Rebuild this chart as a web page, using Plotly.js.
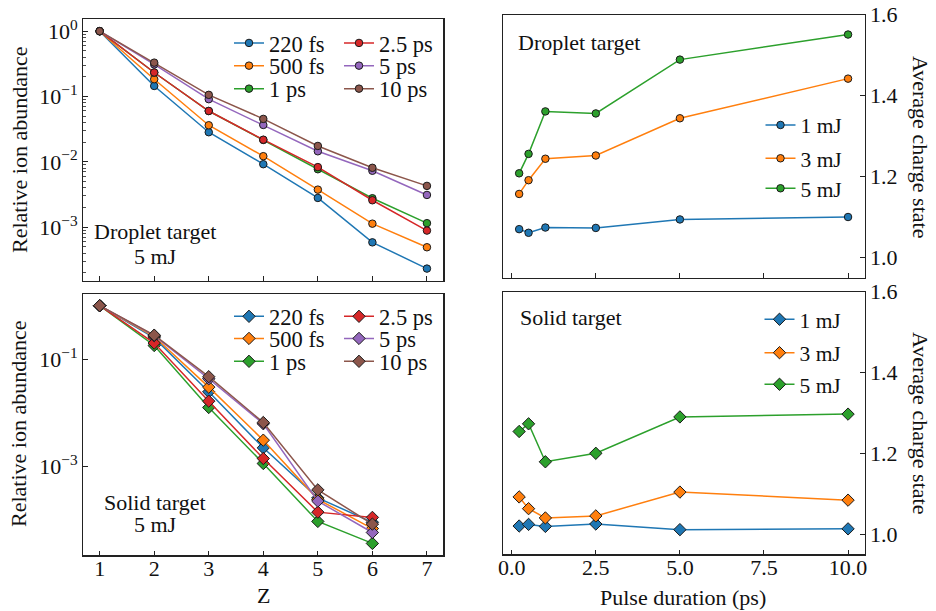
<!DOCTYPE html>
<html><head><meta charset="utf-8">
<script src="https://cdn.plot.ly/plotly-3.0.1.min.js"></script>
<style>html,body{margin:0;padding:0;background:#fff}</style>
</head><body><div id="chart" style="width:936px;height:611px"></div>
<script>
// ---------- data ----------
const Z_droplet = [1, 2, 3, 4, 5, 6, 7];
const Z_solid = [1, 2, 3, 4, 5, 6];
const durationLabels = ['220 fs', '500 fs', '1 ps', '2.5 ps', '5 ps', '10 ps'];

const droplet_220fs = [1, 0.145, 0.0284, 0.0092, 0.0028, 0.000585, 0.000232];
const droplet_500fs = [1, 0.184, 0.0363, 0.0122, 0.00375, 0.00113, 0.000492];
const droplet_1ps   = [1, 0.233, 0.060, 0.0216, 0.0077, 0.00277, 0.00115];
const droplet_2p5ps = [1, 0.233, 0.060, 0.0218, 0.0083, 0.00258, 0.000885];
const droplet_5ps   = [1, 0.31, 0.091, 0.0367, 0.0145, 0.0073, 0.00311];
const droplet_10ps  = [1, 0.33, 0.106, 0.0454, 0.0175, 0.0081, 0.00428];

const solid_220fs = [1, 0.25, 0.0245, 0.0022, 0.000255, 0.000089];
const solid_500fs = [1, 0.265, 0.030, 0.00306, 0.00024, 0.000068];
const solid_1ps   = [1, 0.18, 0.0125, 0.00112, 0.0000925, 0.0000359];
const solid_2p5ps = [1, 0.20, 0.0164, 0.00139, 0.000138, 0.00011];
const solid_5ps   = [1, 0.275, 0.043, 0.0062, 0.000222, 0.0000575];
const solid_10ps  = [1, 0.281, 0.047, 0.00654, 0.00036, 0.0000824];

const pulseDuration = [0.22, 0.5, 1, 2.5, 5, 10];
const energyLabels = ['1 mJ', '3 mJ', '5 mJ'];
const dropletCharge_1mJ = [1.070, 1.061, 1.074, 1.073, 1.094, 1.100];
const dropletCharge_3mJ = [1.157, 1.191, 1.244, 1.252, 1.344, 1.442];
const dropletCharge_5mJ = [1.208, 1.256, 1.361, 1.356, 1.489, 1.551];
const solidCharge_1mJ = [1.020, 1.024, 1.019, 1.025, 1.011, 1.013];
const solidCharge_3mJ = [1.092, 1.063, 1.040, 1.045, 1.104, 1.084];
const solidCharge_5mJ = [1.254, 1.273, 1.179, 1.200, 1.290, 1.297];

const logTickVals = [1, 0.1, 0.01, 0.001, 0.0001];
const logTickText = ['10<sup>0</sup>', '10<sup>\u22121</sup>', '10<sup>\u22122</sup>', '10<sup>\u22123</sup>', '10<sup>\u22124</sup>'];
const solidTickVals = [0.1, 0.001];
const solidTickText = ['10<sup>\u22121</sup>', '10<sup>\u22123</sup>'];
const chargeTicks = [1.0, 1.2, 1.4, 1.6];
const pulseTicks = [0, 2.5, 5, 7.5, 10];

// ---------- styling ----------
const colors = ['#1f77b4', '#ff7f0e', '#2ca02c', '#d62728', '#9467bd', '#8c564b'];
const W = 936, H = 611;
const fx = p => p / W, fy = p => 1 - p / H;
const FONT = "'Liberation Serif', 'Times New Roman', serif";
const FS = 22;

// legend entry positions (marker centre, px)
const leftLegendX = [248, 358];
const dropletLegendY = [43.3, 66, 89];
const solidLegendY = [316.7, 338.8, 361.7];
const dropletChargeLegend = {x: 779.5, y: [125, 158.3, 188.3]};
const solidChargeLegend = {x: 778.5, y: [319.3, 352.7, 384.3]};

const traces = [];
const layout = {
  width: W, height: H, margin: {l: 0, r: 0, t: 0, b: 0},
  paper_bgcolor: '#fff', plot_bgcolor: '#fff', showlegend: true,
  font: {family: FONT, color: '#111', size: FS}
};
let legendCount = 0;
function newLegend(mx, my, size) {
  legendCount += 1;
  const key = legendCount === 1 ? 'legend' : 'legend' + legendCount;
  layout[key] = {x: fx(mx - 19), y: fy(my), xanchor: 'left', yanchor: 'middle', bgcolor: 'rgba(0,0,0,0)',
    borderwidth: 0, font: {family: FONT, size: size, color: '#111'}, itemwidth: 30};
  return key;
}

const dropletSets = [droplet_220fs, droplet_500fs, droplet_1ps, droplet_2p5ps, droplet_5ps, droplet_10ps];
const solidSets = [solid_220fs, solid_500fs, solid_1ps, solid_2p5ps, solid_5ps, solid_10ps];

dropletSets.forEach((ys, i) => traces.push({
  x: Z_droplet, y: ys, xaxis: 'x', yaxis: 'y', type: 'scatter', mode: 'lines+markers',
  name: durationLabels[i], legend: newLegend(leftLegendX[Math.floor(i / 3)], dropletLegendY[i % 3], 22.5),
  line: {color: colors[i], width: 1.5},
  marker: {symbol: 'circle', size: 7.5, color: colors[i], line: {color: '#1a1a1a', width: 1}}
}));
solidSets.forEach((ys, i) => traces.push({
  x: Z_solid, y: ys, xaxis: 'x3', yaxis: 'y3', type: 'scatter', mode: 'lines+markers',
  name: durationLabels[i], legend: newLegend(leftLegendX[Math.floor(i / 3)], solidLegendY[i % 3], 22.5),
  line: {color: colors[i], width: 1.5},
  marker: {symbol: 'diamond', size: 9.5, color: colors[i], line: {color: '#1a1a1a', width: 1}}
}));
[dropletCharge_1mJ, dropletCharge_3mJ, dropletCharge_5mJ].forEach((ys, i) => traces.push({
  x: pulseDuration, y: ys, xaxis: 'x2', yaxis: 'y2', type: 'scatter', mode: 'lines+markers',
  name: energyLabels[i], legend: newLegend(dropletChargeLegend.x, dropletChargeLegend.y[i], 21.5),
  line: {color: colors[i], width: 1.5},
  marker: {symbol: 'circle', size: 7.5, color: colors[i], line: {color: '#1a1a1a', width: 1}}
}));
[solidCharge_1mJ, solidCharge_3mJ, solidCharge_5mJ].forEach((ys, i) => traces.push({
  x: pulseDuration, y: ys, xaxis: 'x4', yaxis: 'y4', type: 'scatter', mode: 'lines+markers',
  name: energyLabels[i], legend: newLegend(solidChargeLegend.x, solidChargeLegend.y[i], 21.5),
  line: {color: colors[i], width: 1.5},
  marker: {symbol: 'diamond', size: 9.5, color: colors[i], line: {color: '#1a1a1a', width: 1}}
}));

const frame = {showline: true, mirror: true, linecolor: '#222', linewidth: 1.2, showgrid: false, zeroline: false,
  ticks: 'inside', ticklen: 4.5, tickwidth: 1, tickcolor: '#222', tickfont: {family: FONT, size: FS, color: '#111'}};

const domLeft = [fx(83.3), fx(443.3)];
const domRight = [fx(502.7), fx(864.5)];

function ann(text, x, y, xanchor, angle) {
  return {text: text, x: fx(x), y: fy(y), xref: 'paper', yref: 'paper', showarrow: false,
    xanchor: xanchor || 'center', yanchor: 'middle', textangle: angle || 0,
    font: {family: FONT, size: FS, color: '#111'}};
}

Object.assign(layout, {
  xaxis: Object.assign({}, frame, {domain: domLeft, anchor: 'y', range: [0.7, 7.3], tickvals: Z_droplet, showticklabels: false}),
  yaxis: Object.assign({}, frame, {domain: [fy(280.5), fy(19.3)], anchor: 'x', type: 'log', range: [-3.817, 0.182],
    tickmode: 'array', tickvals: logTickVals, ticktext: logTickText,
    minor: {ticks: 'inside', ticklen: 2.5, tickwidth: 0.8, tickcolor: '#222', dtick: 'D1', showgrid: false}}),
  xaxis3: Object.assign({}, frame, {domain: domLeft, anchor: 'y3', range: [0.7, 7.3], tickvals: Z_droplet, ticklabelstandoff: -7}),
  yaxis3: Object.assign({}, frame, {domain: [fy(555.3), fy(293.8)], anchor: 'x3', type: 'log', range: [-4.667, 0.222],
    tickmode: 'array', tickvals: solidTickVals, ticktext: solidTickText}),
  xaxis2: Object.assign({}, frame, {domain: domRight, anchor: 'y2', range: [-0.269, 10.489], tickvals: pulseTicks, showticklabels: false}),
  yaxis2: Object.assign({}, frame, {domain: [fy(277.7), fy(14.7)], anchor: 'x2', side: 'right', range: [0.95, 1.6],
    tickvals: chargeTicks, tickformat: '.1f'}),
  xaxis4: Object.assign({}, frame, {domain: domRight, anchor: 'y4', range: [-0.269, 10.489], tickvals: pulseTicks, tickformat: '.1f', ticklabelstandoff: -7}),
  yaxis4: Object.assign({}, frame, {domain: [fy(554.3), fy(291.7)], anchor: 'x4', side: 'right', range: [0.95, 1.6],
    tickvals: chargeTicks, tickformat: '.1f'}),
  annotations: [
    ann('Relative ion abundance', 19, 150, 'center', -90),
    ann('Relative ion abundance', 19, 424, 'center', -90),
    ann('Average charge state', 921, 147, 'center', 90),
    ann('Average charge state', 921, 423, 'center', 90),
    ann('Z', 263, 595),
    ann('Pulse duration (ps)', 683, 597),
    ann('Droplet target', 155, 232),
    ann('5 mJ', 155, 257),
    ann('Solid target', 155, 502),
    ann('5 mJ', 155, 524),
    ann('Droplet target', 516, 42, 'left'),
    ann('Solid target', 518, 317, 'left')
  ]
});

Plotly.newPlot('chart', traces, layout, {displayModeBar: false, staticPlot: true});
</script>
</body></html>
